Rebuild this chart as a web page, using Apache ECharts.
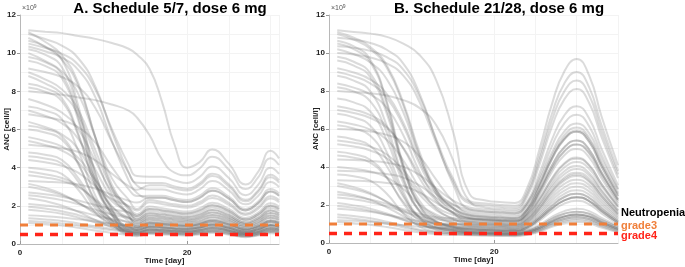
<!DOCTYPE html>
<html>
<head>
<meta charset="utf-8">
<script src="https://cdn.jsdelivr.net/npm/echarts@6/dist/echarts.min.js"></script>
<style>
  html, body { margin: 0; padding: 0; background: #fff; }
  #chart { width: 685px; height: 267px; }
</style>
</head>
<body>
<div id="chart"></div>
<script>
// time points (days) at which the simulated ANC curves were read off
const timesA = [1, 3, 5, 7, 9, 11, 13, 14, 15.5, 17, 18.5, 20, 21.5, 23, 25, 27, 28.5, 30, 31];
const timesB = [1, 3, 5, 7, 9, 11, 13, 15, 17, 19, 21, 22.5, 24, 25.5, 27, 28.5, 30, 31.5, 33, 35];

// ANC (x10^9 cell/l), schedule 5/7
const curvesA = [
  [11.2, 11.12, 11.05, 10.9, 10.75, 10.53, 10.23, 9.93, 9.18, 7.45, 5.2, 4.0, 4.29, 4.95, 4.21, 3.12, 3.78, 4.88, 4.49],
  [11.1, 10.6, 9.9, 8.4, 5.6, 2.9, 1.5, 1.01, 1.27, 1.21, 1.14, 1.1, 1.21, 1.4, 1.19, 0.88, 1.07, 1.38, 1.27],
  [11.0, 10.74, 10.4, 9.72, 8.27, 5.88, 3.75, 3.07, 2.86, 2.86, 2.7, 2.6, 2.86, 3.3, 2.81, 2.08, 2.52, 3.25, 2.99],
  [10.8, 10.33, 9.67, 8.26, 5.63, 3.09, 1.78, 1.29, 1.61, 1.54, 1.46, 1.4, 1.54, 1.78, 1.51, 1.12, 1.36, 1.75, 1.61],
  [10.65, 10.35, 9.67, 7.2, 3.75, 1.8, 0.78, 0.74, 0.92, 0.88, 0.83, 0.8, 0.88, 1.02, 0.86, 0.64, 0.78, 1.0, 0.92],
  [10.5, 10.28, 9.98, 9.38, 8.11, 6.02, 4.16, 3.56, 3.52, 3.52, 3.33, 3.2, 3.52, 4.06, 3.46, 2.56, 3.1, 4.0, 3.68],
  [10.35, 10.1, 9.77, 9.11, 7.71, 5.39, 3.33, 2.67, 2.42, 2.42, 2.29, 2.2, 2.42, 2.79, 2.38, 1.76, 2.13, 2.75, 2.53],
  [10.2, 9.92, 9.27, 6.95, 3.69, 1.83, 0.87, 0.83, 1.04, 0.99, 0.94, 0.9, 0.99, 1.14, 0.97, 0.72, 0.87, 1.13, 1.04],
  [10.0, 9.6, 9.04, 7.84, 5.6, 3.44, 2.32, 1.84, 2.3, 2.2, 2.08, 2.0, 2.2, 2.54, 2.16, 1.6, 1.94, 2.5, 2.3],
  [9.8, 9.53, 8.89, 6.6, 3.4, 1.57, 0.63, 0.6, 0.75, 0.72, 0.68, 0.65, 0.72, 0.83, 0.7, 0.52, 0.63, 0.81, 0.75],
  [9.6, 9.33, 8.7, 6.45, 3.3, 1.5, 0.58, 0.55, 0.69, 0.66, 0.62, 0.6, 0.66, 0.76, 0.65, 0.48, 0.58, 0.75, 0.69],
  [9.2, 9.01, 8.75, 8.23, 7.14, 5.34, 3.73, 3.21, 3.19, 3.19, 3.02, 2.9, 3.19, 3.68, 3.13, 2.32, 2.81, 3.63, 3.34],
  [9.0, 8.63, 8.11, 7.0, 4.93, 2.93, 1.9, 1.47, 1.84, 1.76, 1.66, 1.6, 1.76, 2.03, 1.73, 1.28, 1.55, 2.0, 1.84],
  [8.8, 8.42, 7.89, 6.75, 4.62, 2.57, 1.5, 1.1, 1.38, 1.32, 1.25, 1.2, 1.32, 1.52, 1.3, 0.96, 1.16, 1.5, 1.38],
  [8.4, 8.17, 7.64, 5.74, 3.08, 1.56, 0.78, 0.74, 0.92, 0.88, 0.83, 0.8, 0.88, 1.02, 0.86, 0.64, 0.78, 1.0, 0.92],
  [8.2, 7.98, 7.48, 5.66, 3.13, 1.68, 0.92, 0.87, 1.09, 1.05, 0.99, 0.95, 1.05, 1.21, 1.03, 0.76, 0.92, 1.19, 1.09],
  [8.0, 7.91, 7.82, 7.68, 7.54, 7.31, 6.99, 6.63, 5.71, 4.43, 3.74, 3.6, 3.96, 4.57, 3.89, 2.88, 3.49, 4.5, 4.14],
  [7.6, 7.31, 6.89, 6.01, 4.36, 2.76, 1.94, 1.56, 1.96, 1.87, 1.77, 1.7, 1.87, 2.16, 1.84, 1.36, 1.65, 2.13, 1.96],
  [7.2, 7.0, 6.54, 4.87, 2.55, 1.22, 0.53, 0.51, 0.63, 0.61, 0.57, 0.55, 0.61, 0.7, 0.59, 0.44, 0.53, 0.69, 0.63],
  [7.0, 6.72, 6.33, 5.49, 3.92, 2.41, 1.62, 1.29, 1.61, 1.54, 1.46, 1.4, 1.54, 1.78, 1.51, 1.12, 1.36, 1.75, 1.61],
  [6.8, 6.66, 6.48, 6.11, 5.32, 4.03, 2.88, 2.51, 2.53, 2.53, 2.39, 2.3, 2.53, 2.92, 2.48, 1.84, 2.23, 2.88, 2.65],
  [6.4, 6.13, 5.75, 4.94, 3.43, 1.97, 1.22, 0.92, 1.15, 1.1, 1.04, 1.0, 1.1, 1.27, 1.08, 0.8, 0.97, 1.25, 1.15],
  [6.2, 6.03, 5.63, 4.21, 2.21, 1.07, 0.49, 0.46, 0.58, 0.55, 0.52, 0.5, 0.55, 0.64, 0.54, 0.4, 0.49, 0.63, 0.58],
  [6.0, 5.84, 5.47, 4.15, 2.29, 1.23, 0.68, 0.64, 0.81, 0.77, 0.73, 0.7, 0.77, 0.89, 0.76, 0.56, 0.68, 0.88, 0.81],
  [5.6, 5.4, 5.11, 4.49, 3.35, 2.24, 1.66, 1.38, 1.73, 1.65, 1.56, 1.5, 1.65, 1.91, 1.62, 1.2, 1.46, 1.88, 1.73],
  [5.4, 5.19, 4.9, 4.27, 3.09, 1.96, 1.37, 1.1, 1.38, 1.32, 1.25, 1.2, 1.32, 1.52, 1.3, 0.96, 1.16, 1.5, 1.38],
  [5.2, 5.12, 5.02, 4.82, 4.39, 3.68, 3.04, 2.84, 3.08, 3.08, 2.91, 2.8, 3.08, 3.56, 3.02, 2.24, 2.72, 3.5, 3.22],
  [4.8, 4.68, 4.41, 3.44, 2.07, 1.29, 0.87, 0.83, 1.04, 0.99, 0.94, 0.9, 0.99, 1.14, 0.97, 0.72, 0.87, 1.13, 1.04],
  [4.6, 4.48, 4.22, 3.25, 1.9, 1.14, 0.73, 0.69, 0.86, 0.83, 0.78, 0.75, 0.83, 0.95, 0.81, 0.6, 0.73, 0.94, 0.86],
  [4.4, 4.28, 4.1, 3.73, 3.03, 2.35, 2.0, 1.75, 2.19, 2.09, 1.98, 1.9, 2.09, 2.41, 2.05, 1.52, 1.84, 2.38, 2.19],
  [4.0, 3.9, 3.67, 2.83, 1.66, 0.99, 0.63, 0.6, 0.75, 0.72, 0.68, 0.65, 0.72, 0.83, 0.7, 0.52, 0.63, 0.81, 0.75],
  [3.8, 3.66, 3.46, 3.04, 2.26, 1.5, 1.11, 0.92, 1.15, 1.1, 1.04, 1.0, 1.1, 1.27, 1.08, 0.8, 0.97, 1.25, 1.15],
  [3.6, 3.49, 3.32, 2.98, 2.34, 1.71, 1.39, 1.2, 1.5, 1.43, 1.35, 1.3, 1.43, 1.65, 1.4, 1.04, 1.26, 1.63, 1.5],
  [3.3, 3.26, 3.22, 3.12, 2.91, 2.57, 2.27, 2.17, 2.42, 2.42, 2.29, 2.2, 2.42, 2.79, 2.38, 1.76, 2.13, 2.75, 2.53],
  [3.15, 2.94, 2.63, 2.16, 1.59, 1.07, 0.68, 0.51, 0.63, 0.61, 0.57, 0.55, 0.61, 0.7, 0.59, 0.44, 0.53, 0.69, 0.63],
  [3.0, 2.82, 2.56, 2.16, 1.68, 1.24, 0.91, 0.74, 0.92, 0.88, 0.83, 0.8, 0.88, 1.02, 0.86, 0.64, 0.78, 1.0, 0.92],
  [2.7, 2.61, 2.48, 2.28, 2.04, 1.82, 1.66, 1.47, 1.84, 1.76, 1.66, 1.6, 1.76, 2.03, 1.73, 1.28, 1.55, 2.0, 1.84],
  [2.55, 2.45, 2.3, 2.08, 1.8, 1.55, 1.36, 1.2, 1.5, 1.43, 1.35, 1.3, 1.43, 1.65, 1.4, 1.04, 1.26, 1.63, 1.5],
  [2.4, 2.25, 2.02, 1.68, 1.26, 0.88, 0.6, 0.46, 0.58, 0.55, 0.52, 0.5, 0.55, 0.64, 0.54, 0.4, 0.49, 0.63, 0.58],
  [2.1, 2.02, 1.9, 1.72, 1.5, 1.3, 1.15, 1.01, 1.27, 1.21, 1.14, 1.1, 1.21, 1.4, 1.19, 0.88, 1.07, 1.38, 1.27],
  [1.95, 1.86, 1.72, 1.51, 1.26, 1.03, 0.86, 0.74, 0.92, 0.88, 0.83, 0.8, 0.88, 1.02, 0.86, 0.64, 0.78, 1.0, 0.92],
  [1.8, 1.71, 1.58, 1.38, 1.14, 0.92, 0.76, 0.64, 0.81, 0.77, 0.73, 0.7, 0.77, 0.89, 0.76, 0.56, 0.68, 0.88, 0.81],
  [1.5, 1.46, 1.39, 1.29, 1.17, 1.06, 0.98, 0.87, 1.09, 1.05, 0.99, 0.95, 1.05, 1.21, 1.03, 0.76, 0.92, 1.19, 1.09],
  [1.35, 1.29, 1.21, 1.08, 0.93, 0.79, 0.69, 0.6, 0.75, 0.72, 0.68, 0.65, 0.72, 0.83, 0.7, 0.52, 0.63, 0.81, 0.75],
  [1.2, 1.15, 1.08, 0.97, 0.84, 0.72, 0.63, 0.55, 0.69, 0.66, 0.62, 0.6, 0.66, 0.76, 0.65, 0.48, 0.58, 0.75, 0.69],
  [1.1, 1.05, 0.97, 0.85, 0.71, 0.58, 0.48, 0.41, 0.52, 0.5, 0.47, 0.45, 0.5, 0.57, 0.49, 0.36, 0.44, 0.56, 0.52]
];

// ANC (x10^9 cell/l), schedule 21/28
const curvesB = [
  [11.2, 11.11, 11.02, 10.85, 10.49, 9.88, 8.55, 5.9, 2.6, 2.24, 2.15, 2.11, 2.9, 4.95, 7.31, 9.03, 9.68, 8.82, 6.67, 4.09],
  [11.1, 10.81, 10.32, 9.34, 7.38, 4.74, 2.79, 1.81, 1.32, 1.25, 1.2, 1.18, 1.62, 2.76, 4.08, 5.04, 5.4, 4.92, 3.72, 2.28],
  [11.0, 10.7, 10.21, 9.22, 7.24, 4.57, 2.59, 1.6, 1.1, 1.04, 1.0, 0.98, 1.35, 2.3, 3.4, 4.2, 4.5, 4.1, 3.1, 1.9],
  [10.8, 10.71, 10.53, 10.17, 9.44, 7.82, 5.38, 3.12, 1.76, 1.66, 1.6, 1.57, 2.16, 3.68, 5.44, 6.72, 7.2, 6.56, 4.96, 3.04],
  [10.65, 10.35, 9.65, 7.44, 4.12, 1.92, 1.11, 0.81, 0.61, 0.57, 0.55, 0.53, 0.63, 0.88, 1.27, 1.54, 1.65, 1.54, 1.21, 0.83],
  [10.5, 10.2, 9.52, 7.35, 3.94, 1.94, 1.15, 0.86, 0.66, 0.62, 0.6, 0.59, 0.75, 1.17, 1.68, 2.07, 2.22, 2.04, 1.56, 0.99],
  [10.35, 10.27, 10.11, 9.78, 9.13, 7.66, 5.46, 3.42, 2.2, 2.08, 2.0, 1.96, 2.7, 4.6, 6.8, 8.4, 9.0, 8.2, 6.2, 3.8],
  [10.2, 9.94, 9.5, 8.62, 6.87, 4.5, 2.75, 1.87, 1.43, 1.35, 1.3, 1.27, 1.76, 2.99, 4.42, 5.46, 5.85, 5.33, 4.03, 2.47],
  [10.0, 9.92, 9.76, 9.45, 8.81, 7.39, 5.25, 3.28, 2.09, 1.98, 1.9, 1.86, 2.57, 4.37, 6.46, 7.98, 8.55, 7.79, 5.89, 3.61],
  [9.8, 9.54, 8.93, 7.0, 4.11, 2.19, 1.49, 1.22, 1.05, 0.99, 0.95, 0.93, 1.19, 1.85, 2.66, 3.28, 3.52, 3.23, 2.47, 1.57],
  [9.6, 9.34, 8.73, 6.81, 3.93, 2.01, 1.32, 1.05, 0.88, 0.83, 0.8, 0.78, 1.08, 1.84, 2.72, 3.36, 3.6, 3.28, 2.48, 1.52],
  [9.2, 8.97, 8.6, 7.84, 6.33, 4.29, 2.78, 2.03, 1.65, 1.56, 1.5, 1.47, 2.03, 3.45, 5.1, 6.3, 6.75, 6.15, 4.65, 2.85],
  [9.0, 8.77, 8.4, 7.65, 6.15, 4.12, 2.62, 1.87, 1.49, 1.4, 1.35, 1.32, 1.82, 3.11, 4.59, 5.67, 6.08, 5.54, 4.19, 2.57],
  [8.8, 8.55, 7.98, 6.16, 3.44, 1.62, 0.96, 0.72, 0.55, 0.52, 0.5, 0.49, 0.58, 0.8, 1.15, 1.4, 1.5, 1.4, 1.1, 0.75],
  [8.4, 8.18, 7.82, 7.11, 5.67, 3.73, 2.29, 1.57, 1.21, 1.14, 1.1, 1.08, 1.49, 2.53, 3.74, 4.62, 4.95, 4.51, 3.41, 2.09],
  [8.2, 7.98, 7.45, 5.81, 3.34, 1.69, 1.09, 0.87, 0.72, 0.68, 0.65, 0.64, 0.81, 1.27, 1.82, 2.24, 2.41, 2.21, 1.69, 1.07],
  [8.0, 7.94, 7.88, 7.76, 7.52, 7.1, 6.19, 4.39, 2.2, 1.87, 1.8, 1.76, 2.43, 4.14, 6.12, 7.56, 8.1, 7.38, 5.58, 3.42],
  [7.6, 7.4, 6.92, 5.41, 3.16, 1.66, 1.11, 0.91, 0.77, 0.73, 0.7, 0.69, 0.88, 1.37, 1.96, 2.42, 2.59, 2.38, 1.82, 1.16],
  [7.2, 7.02, 6.73, 6.14, 4.97, 3.38, 2.2, 1.61, 1.32, 1.25, 1.2, 1.18, 1.62, 2.76, 4.08, 5.04, 5.4, 4.92, 3.72, 2.28],
  [7.0, 6.84, 6.58, 6.06, 5.01, 3.59, 2.55, 2.02, 1.76, 1.66, 1.6, 1.57, 2.0, 3.12, 4.48, 5.52, 5.92, 5.44, 4.16, 2.64],
  [6.8, 6.61, 6.17, 4.78, 2.7, 1.32, 0.82, 0.63, 0.5, 0.47, 0.45, 0.44, 0.52, 0.72, 1.04, 1.26, 1.35, 1.26, 0.99, 0.68],
  [6.4, 6.24, 5.97, 5.43, 4.34, 2.88, 1.8, 1.26, 0.99, 0.94, 0.9, 0.88, 1.22, 2.07, 3.06, 3.78, 4.05, 3.69, 2.79, 1.71],
  [6.2, 6.03, 5.64, 4.39, 2.53, 1.28, 0.83, 0.66, 0.55, 0.52, 0.5, 0.49, 0.58, 0.8, 1.15, 1.4, 1.5, 1.4, 1.1, 0.75],
  [6.0, 5.96, 5.87, 5.69, 5.33, 4.53, 3.32, 2.21, 1.54, 1.46, 1.4, 1.37, 1.75, 2.73, 3.92, 4.83, 5.18, 4.76, 3.64, 2.31],
  [5.6, 5.45, 5.11, 4.04, 2.43, 1.35, 0.96, 0.82, 0.72, 0.68, 0.65, 0.64, 0.81, 1.27, 1.82, 2.24, 2.41, 2.21, 1.69, 1.07],
  [5.4, 5.28, 5.07, 4.66, 3.83, 2.72, 1.89, 1.48, 1.27, 1.2, 1.15, 1.13, 1.55, 2.65, 3.91, 4.83, 5.18, 4.72, 3.57, 2.19],
  [5.2, 5.08, 4.87, 4.46, 3.64, 2.54, 1.72, 1.31, 1.1, 1.04, 1.0, 0.98, 1.25, 1.95, 2.8, 3.45, 3.7, 3.4, 2.6, 1.65],
  [4.8, 4.67, 4.38, 3.46, 2.08, 1.15, 0.82, 0.69, 0.61, 0.57, 0.55, 0.53, 0.63, 0.88, 1.27, 1.54, 1.65, 1.54, 1.21, 0.83],
  [4.6, 4.49, 4.23, 3.41, 2.18, 1.36, 1.07, 0.95, 0.88, 0.83, 0.8, 0.78, 1.0, 1.56, 2.24, 2.76, 2.96, 2.72, 2.08, 1.32],
  [4.4, 4.37, 4.32, 4.22, 4.02, 3.57, 2.88, 2.25, 1.87, 1.77, 1.7, 1.67, 2.13, 3.32, 4.76, 5.87, 6.29, 5.78, 4.42, 2.81],
  [4.0, 3.91, 3.76, 3.45, 2.84, 2.01, 1.4, 1.09, 0.94, 0.88, 0.85, 0.83, 1.06, 1.66, 2.38, 2.93, 3.15, 2.89, 2.21, 1.4],
  [3.8, 3.78, 3.73, 3.63, 3.44, 3.02, 2.38, 1.79, 1.43, 1.35, 1.3, 1.27, 1.76, 2.99, 4.42, 5.46, 5.85, 5.33, 4.03, 2.47],
  [3.6, 3.51, 3.28, 2.59, 1.55, 0.85, 0.6, 0.5, 0.44, 0.42, 0.4, 0.39, 0.46, 0.64, 0.92, 1.12, 1.2, 1.12, 0.88, 0.6],
  [3.3, 3.28, 3.24, 3.16, 3.0, 2.65, 2.11, 1.62, 1.32, 1.25, 1.2, 1.18, 1.5, 2.34, 3.36, 4.14, 4.44, 4.08, 3.12, 1.98],
  [3.15, 2.94, 2.63, 2.15, 1.58, 1.05, 0.71, 0.58, 0.53, 0.5, 0.48, 0.47, 0.55, 0.77, 1.1, 1.34, 1.44, 1.34, 1.06, 0.72],
  [3.0, 2.83, 2.57, 2.18, 1.7, 1.26, 0.98, 0.87, 0.83, 0.78, 0.75, 0.74, 0.94, 1.46, 2.1, 2.59, 2.78, 2.55, 1.95, 1.24],
  [2.7, 2.53, 2.27, 1.88, 1.41, 0.98, 0.7, 0.59, 0.55, 0.52, 0.5, 0.49, 0.58, 0.8, 1.15, 1.4, 1.5, 1.4, 1.1, 0.75],
  [2.55, 2.45, 2.29, 2.06, 1.78, 1.53, 1.36, 1.3, 1.27, 1.2, 1.15, 1.13, 1.44, 2.24, 3.22, 3.97, 4.26, 3.91, 2.99, 1.9],
  [2.4, 2.3, 2.15, 1.93, 1.66, 1.41, 1.25, 1.18, 1.16, 1.09, 1.05, 1.03, 1.31, 2.05, 2.94, 3.62, 3.89, 3.57, 2.73, 1.73],
  [2.1, 1.98, 1.81, 1.55, 1.24, 0.95, 0.76, 0.69, 0.66, 0.62, 0.6, 0.58, 0.69, 0.96, 1.38, 1.68, 1.8, 1.68, 1.32, 0.9],
  [1.95, 1.85, 1.7, 1.48, 1.21, 0.97, 0.81, 0.75, 0.72, 0.68, 0.65, 0.64, 0.81, 1.27, 1.82, 2.24, 2.41, 2.21, 1.69, 1.07],
  [1.8, 1.74, 1.64, 1.49, 1.31, 1.15, 1.05, 1.0, 0.99, 0.94, 0.9, 0.88, 1.13, 1.76, 2.52, 3.11, 3.33, 3.06, 2.34, 1.49],
  [1.5, 1.42, 1.3, 1.12, 0.9, 0.7, 0.57, 0.52, 0.5, 0.47, 0.45, 0.44, 0.52, 0.72, 1.04, 1.26, 1.35, 1.26, 0.99, 0.68],
  [1.35, 1.28, 1.17, 1.01, 0.82, 0.64, 0.52, 0.48, 0.46, 0.44, 0.42, 0.41, 0.48, 0.67, 0.97, 1.18, 1.26, 1.18, 0.92, 0.63],
  [1.2, 1.17, 1.11, 1.04, 0.94, 0.86, 0.8, 0.78, 0.77, 0.73, 0.7, 0.69, 0.88, 1.37, 1.96, 2.42, 2.59, 2.38, 1.82, 1.16],
  [1.1, 1.04, 0.96, 0.84, 0.69, 0.55, 0.46, 0.42, 0.41, 0.38, 0.37, 0.36, 0.43, 0.59, 0.85, 1.04, 1.11, 1.04, 0.81, 0.56]
];

const grade3 = 1.0;
const grade4 = 0.5;
const xMaxA = 31;
const xMaxB = 35;
const xTicks = [0, 20];

const FONT = 'Liberation Sans, Arial, sans-serif';
const chart = echarts.init(document.getElementById('chart'), null, { renderer: 'canvas' });

function mainX(gridIndex, max, shift) {
  return {
    type: 'value', gridIndex, min: 0, max, interval: 20,
    name: 'Time [day]', nameLocation: 'middle', nameGap: 13, nameMoveOverlap: false,
    nameTextStyle: { fontSize: 8, fontWeight: 'bold', color: '#222', fontFamily: FONT, padding: [0, 0, 0, shift] },
    axisLine: { show: true, lineStyle: { color: '#b8b8b8' } },
    axisTick: { show: true, customValues: xTicks, length: 3, inside: true, lineStyle: { color: '#999' } },
    axisLabel: { customValues: xTicks, fontSize: 8, fontWeight: 'bold', color: '#222', fontFamily: FONT, margin: 5 },
    splitLine: { show: true, lineStyle: { color: '#e8e8e8', width: 1 } }
  };
}
function minorX(gridIndex, max) {
  return {
    type: 'value', gridIndex, min: 0, max, interval: 5,
    axisLine: { show: false }, axisTick: { show: false }, axisLabel: { show: false },
    splitLine: { show: true, lineStyle: { color: '#f3f3f3', width: 1 } }
  };
}
function mainY(gridIndex) {
  return {
    type: 'value', gridIndex, min: 0, max: 12, interval: 2,
    name: 'ANC [cell/l]', nameLocation: 'middle', nameGap: 9, nameRotate: 90, nameMoveOverlap: false,
    nameTextStyle: { fontSize: 8, fontWeight: 'bold', color: '#222', fontFamily: FONT },
    axisLine: { show: true, lineStyle: { color: '#b8b8b8' } },
    axisTick: { show: true, length: 3, lineStyle: { color: '#999' } },
    axisLabel: { fontSize: 8, fontWeight: 'bold', color: '#222', fontFamily: FONT, margin: 4 },
    splitLine: { show: true, lineStyle: { color: '#e8e8e8', width: 1 } }
  };
}
function minorY(gridIndex) {
  return {
    type: 'value', gridIndex, min: 0, max: 12, interval: 1,
    axisLine: { show: false }, axisTick: { show: false }, axisLabel: { show: false },
    splitLine: { show: true, lineStyle: { color: '#f3f3f3', width: 1 } }
  };
}

function curveSeries(times, curves, axisIdx) {
  return curves.map(vals => ({
    type: 'line', xAxisIndex: axisIdx, yAxisIndex: axisIdx,
    data: vals.map((v, i) => [times[i], v]),
    smooth: 0.5, symbol: 'none', silent: true, z: 2,
    lineStyle: { color: '#6a6a6a', width: 2, opacity: 0.24 }
  }));
}
function thresholdSeries(level, max, axisIdx, color, width) {
  return {
    type: 'line', xAxisIndex: axisIdx, yAxisIndex: axisIdx,
    data: [[0, level], [max, level]], symbol: 'none', silent: true, z: 5,
    lineStyle: { color, width, type: [8, 7] }
  };
}

const exp9 = {
  a: { fontSize: 7, fill: '#555', fontFamily: FONT },
  b: { fontSize: 5, fill: '#555', fontFamily: FONT, verticalAlign: 'top', padding: [0, 0, 4, 0] }
};

const option = {
  animation: false,
  backgroundColor: '#ffffff',
  title: [
    { text: 'A. Schedule 5/7, dose 6 mg', left: 165, top: -4, textAlign: 'center',
      textStyle: { fontSize: 15, fontWeight: 'bold', color: '#000', fontFamily: FONT } },
    { text: 'B. Schedule 21/28, dose 6 mg', left: 494, top: -4, textAlign: 'center',
      textStyle: { fontSize: 15, fontWeight: 'bold', color: '#000', fontFamily: FONT } }
  ],
  grid: [
    { left: 20, top: 15, width: 259, height: 229, outerBoundsMode: 'none' },
    { left: 329, top: 15, width: 289, height: 228, outerBoundsMode: 'none' }
  ],
  // axis 0/1: main axes, 2/3: minor grid axes
  xAxis: [mainX(0, xMaxA, 30), mainX(1, xMaxB, 0), minorX(0, xMaxA), minorX(1, xMaxB)],
  yAxis: [mainY(0), mainY(1), minorY(0), minorY(1)],
  graphic: [
    { type: 'text', left: 22, top: 4, style: { rich: exp9, text: '{a|×10}{b|9}' } },
    { type: 'text', left: 331, top: 4, style: { rich: exp9, text: '{a|×10}{b|9}' } },
    { type: 'text', left: 621, top: 207, style: { text: 'Neutropenia', fontSize: 11, fontWeight: 'bold', fill: '#000', fontFamily: FONT } },
    { type: 'text', left: 621, top: 220, style: { text: 'grade3', fontSize: 11, fontWeight: 'bold', fill: '#f07f3a', fontFamily: FONT } },
    { type: 'text', left: 621, top: 230, style: { text: 'grade4', fontSize: 11, fontWeight: 'bold', fill: '#ff2418', fontFamily: FONT } }
  ],
  series: [
    ...curveSeries(timesA, curvesA, 0),
    ...curveSeries(timesB, curvesB, 1),
    thresholdSeries(grade3, xMaxA, 0, '#f07f3a', 3),
    thresholdSeries(grade4, xMaxA, 0, '#ff2418', 3.5),
    thresholdSeries(grade3, xMaxB, 1, '#f07f3a', 3),
    thresholdSeries(grade4, xMaxB, 1, '#ff2418', 3.5)
  ]
};

chart.setOption(option);
</script>
</body>
</html>
